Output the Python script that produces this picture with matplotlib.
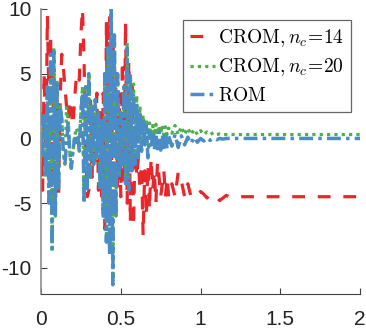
import matplotlib
matplotlib.use('Agg')
import matplotlib.pyplot as plt
import numpy as np

plt.rcParams['axes.unicode_minus'] = False
plt.rcParams['mathtext.fontset'] = 'cm'

# time grid: dense part (step 0.01) and tail
t_dense = np.round(np.arange(0, 0.805, 0.01), 2)
t_tail = [0.82, 0.84, 0.86, 0.88, 0.90, 0.92, 0.94, 0.96, 0.98, 1.00,
          1.02, 1.04, 1.06, 1.08, 1.10, 1.12, 1.14, 1.16, 1.18, 1.20,
          1.3, 1.4, 1.5, 1.6, 1.7, 1.8, 1.9, 2.0]

# CROM, n_c = 14
crom14_dense = [2, -4, 5, -2, 9.5, 3, 8, -3, 5, -4.5,
                3, -4.5, 3, 6.5, 5.5, 4, 2.5, 1.5, 3, 2,
                1, 3, 4.5, 5, 4.5, 8, 10, 6, -1, -4.5,
                -4, 3, -3, 2, -2, 3.5, -4, 2, -5, 3.5,
                -7, 9, -6, 9.5, -5, 7, -5.5, 5, -4, 3.5,
                -4.5, 6, -3.5, 9, -5, 6, -6.5, 4, -6.8, 0,
                -3, -1.5, -4, -2, -7.5, -2.5, -6, -2, -5.5, -1.5,
                -4, -2.5, -5, -1.8, -3, -4.5, -3.5, -2.5, -4.5, -3,
                -4.5]
crom14_tail = [-3.5, -4.5, -2.6, -3.3, -4.5, -3.5, -4.5, -4.2, -4.3, -4.1,
               -4.3, -4.6, -4.3, -4.4, -4.5, -4.8, -4.6, -4.4, -4.5, -4.5,
               -4.5, -4.5, -4.5, -4.5, -4.5, -4.5, -4.5, -4.5]

# CROM, n_c = 20
crom20_dense = [0.5, -1.5, 2, -3, 4, -5, 5, -8.8, 7, -6,
                4.5, -4, 2.5, 1.5, -1, -2, 2.4, 1.3, -1, -2.3,
                -1, 0, 0.8, 0.5, -1, 2, 4, -5, 4, -4,
                5, -3, 2.5, -2, 3, -1.5, 2, -4, 1.5, -6,
                5, -8, 7, -9, 10, -11, 8, -6, 5, -3,
                2, -2, 4, -3, 7.4, -3, 4.8, -1.5, 4.2, -1,
                3.3, -0.5, 2.5, 0, 1.8, 0.2, 1.5, -0.5, 1.2, 0,
                1, 0.2, 1.1, 0.3, 1, 0.4, 1, 0.3, 0.9, 0.3,
                0.8]
crom20_tail = [0.4, 1.0, 0.3, 0.9, 0.3, 0.8, 0.3, 0.7, 0.3, 0.6,
               0.3, 0.5, 0.3, 0.45, 0.3, 0.35, 0.3, 0.3, 0.3, 0.3,
               0.3, 0.3, 0.3, 0.3, 0.3, 0.3, 0.3, 0.3]

# ROM
rom_dense = [0.5, -1.5, 2, -3, 4, -5, 6.5, -8.5, 7, -6,
             4.5, -4, 2.5, 1.5, -1, -2, -0.5, 1.3, -1, -2.3,
             -1, 0, -0.5, 0.3, -1, 2, 3.5, -5, 4, -4,
             5, -3, 2.5, -2, 3, -1.5, 2, -4, 1.5, -6,
             5, -8, 7, -9, 10, -11.3, 8, -6, 5, -3,
             2, -2, 4, -3.5, 7, -4, 5, -2.5, 3.5, -2,
             2.5, -1.5, 2, -1, 1.5, -0.5, 1, -1.5, 0.5, -0.8,
             0.3, -0.9, 0.4, -0.8, 0.5, -0.9, 0.3, -0.7, 0.4, -0.8,
             0.2]
rom_tail = [-0.6, 0.3, -0.7, 0.2, -0.5, 0.1, -0.4, 0.1, -0.3, 0.0,
            -0.2, 0.05, -0.15, 0.0, -0.1, 0.0, -0.05, 0.0, 0.0, 0.0,
            0.0, 0.0, 0.0, 0.0, 0.0, 0.0, 0.0, 0.0]

t = np.concatenate([t_dense, t_tail])
crom14 = crom14_dense + crom14_tail
crom20 = crom20_dense + crom20_tail
rom = rom_dense + rom_tail

fig = plt.figure(figsize=(3.66, 3.32), dpi=100)
ax = fig.add_axes([0.112, 0.115, 0.872, 0.858])

ax.plot(t, crom14, color='#e8262b', lw=2.3, ls=(0, (4, 4)),
        label=r'$\mathrm{CROM,}n_c\!=\!\mathrm{14}$')
ax.plot(t, crom20, color='#4daf4a', lw=2.3, ls=(0, (1, 1.3)),
        label=r'$\mathrm{CROM,}n_c\!=\!\mathrm{20}$')
ax.plot(t, rom, color='#4a8cc6', lw=2.5, ls=(0, (4, 1.5, 1, 1.5)),
        label=r'$\mathrm{ROM}$')

ax.set_xlim(0, 2)
ax.set_ylim(-12, 10)
ax.set_xticks([0, 0.5, 1, 1.5, 2])
ax.set_xticklabels(['0', '0.5', '1', '1.5', '2'])
ax.set_yticks([-10, -5, 0, 5, 10])
ax.set_yticklabels(['-10', '-5', '0', '5', '10'])

for s in ['top', 'right']:
    ax.spines[s].set_visible(False)
ax.spines['left'].set_color('#8c8c8c')
ax.spines['left'].set_linewidth(1.2)
ax.spines['bottom'].set_color('#404040')
ax.tick_params(direction='in', length=4, colors='#404040', labelcolor='#222222',
               labelsize=15, pad=7)
ax.tick_params(axis='x', pad=12)
for lab in ax.get_xticklabels() + ax.get_yticklabels():
    lab.set_family('Liberation Sans')

leg = ax.legend(loc='upper right', bbox_to_anchor=(0.959, 0.94),
                bbox_transform=fig.transFigure, fontsize=14, frameon=True,
                fancybox=False, framealpha=1, edgecolor='#666666',
                handlelength=1.3, handletextpad=0.15, borderpad=0.35,
                labelspacing=0.4, borderaxespad=0)
leg.get_frame().set_linewidth(0.9)

fig.savefig('out.png', dpi=100)
